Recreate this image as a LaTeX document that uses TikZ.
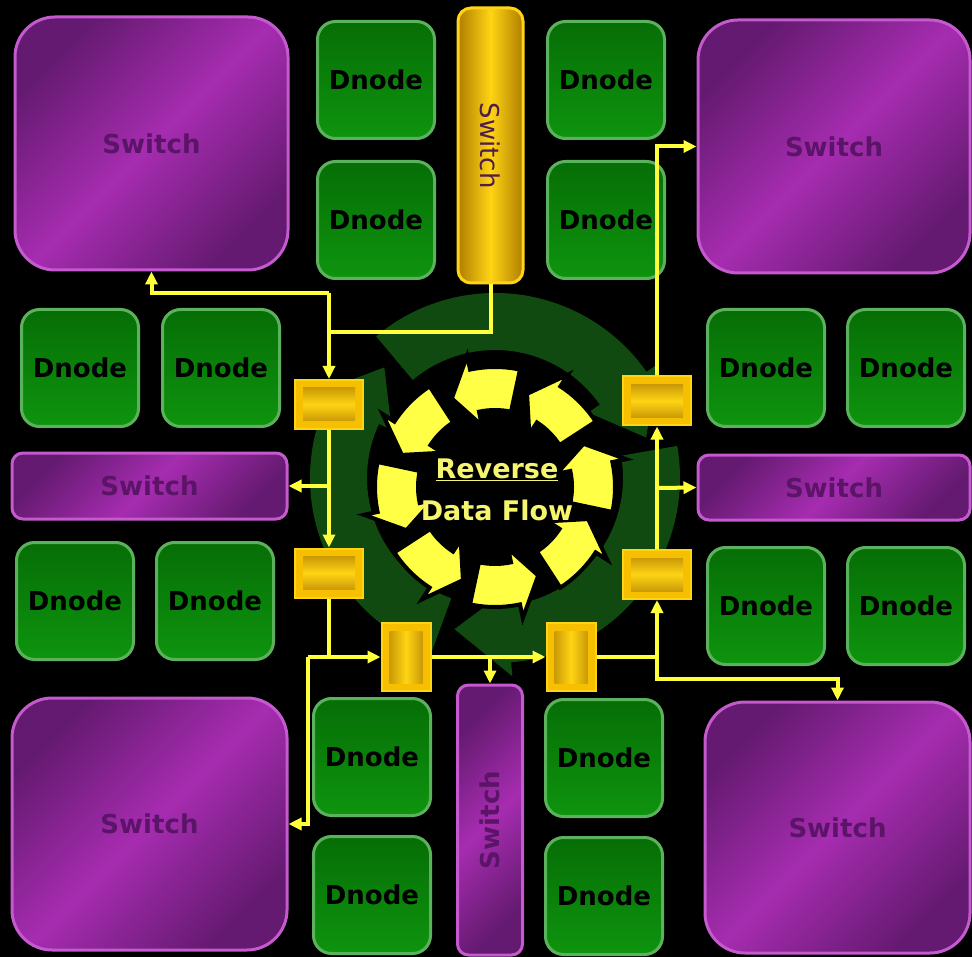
\documentclass[tikz,border=0pt]{standalone}
\usepackage{fontspec}
\setmainfont{DejaVu Sans}
\usepackage{graphicx}
\usetikzlibrary{arrows.meta}

\definecolor{dgreen}{RGB}{6,110,6}
\definecolor{lgreen}{RGB}{14,148,14}
\definecolor{greenrim}{RGB}{92,178,92}
\definecolor{pmain}{RGB}{166,44,176}
\definecolor{pdark}{RGB}{100,26,112}
\definecolor{prim}{RGB}{196,90,206}
\definecolor{ptext}{RGB}{92,20,104}
\definecolor{gold}{RGB}{246,192,0}
\definecolor{golddark}{RGB}{176,126,0}
\definecolor{goldlight}{RGB}{255,212,20}
\definecolor{flowyellow}{RGB}{255,255,60}
\definecolor{ringgreen}{RGB}{16,74,16}
\definecolor{ringyellow}{RGB}{255,255,70}
\definecolor{titleyellow}{RGB}{245,245,110}
\definecolor{ytext}{RGB}{80,30,74}

% curved arrow on a ring: style, start, end, inner r, outer r, overhang, tip offset
\newcommand{\ringarrow}[7]{%
  \filldraw[#1] ({#2}:#4) arc[start angle={#2}, end angle={#3}, radius=#4]
    -- ({#3}:{#4-#6}) -- ({#3+#7}:{(#4+#5)/2}) -- ({#3}:{#5+#6})
    -- ({#3}:#5) arc[start angle={#3}, end angle={#2}, radius=#5] -- cycle;}

\tikzset{
  dnode/.style={rectangle, rounded corners=18pt, minimum width=117pt, minimum height=117pt,
    inner sep=0pt, draw=greenrim, line width=3pt, top color=dgreen, bottom color=lgreen,
    font=\fontsize{26}{28}\selectfont\bfseries, text=black},
  bigswitch/.style={rectangle, rounded corners=40pt, inner sep=0pt, draw=prim, line width=3pt,
    top color=pdark, bottom color=pdark, middle color=pmain, shading angle=45,
    font=\fontsize{26}{28}\selectfont\bfseries, text=ptext},
  sideswitch/.style={bigswitch, rounded corners=11pt},
  goldswitch/.style={rectangle, rounded corners=13pt, inner sep=0pt, draw=goldlight, line width=3pt,
    left color=golddark, right color=golddark, middle color=goldlight,
    font=\fontsize{26}{28}\selectfont, text=ytext},
  bufh/.style={rectangle, inner sep=0pt, minimum width=68pt, minimum height=49pt,
    fill=gold, draw=goldlight, line width=2pt,
    path picture={\shade[top color=golddark, bottom color=golddark, middle color=goldlight]
      ([shift={(8pt,-8pt)}]path picture bounding box.north west) rectangle
      ([shift={(-8pt,8pt)}]path picture bounding box.south east);}},
  bufv/.style={bufh, minimum width=49pt, minimum height=68pt,
    path picture={\shade[left color=golddark, right color=golddark, middle color=goldlight]
      ([shift={(8pt,-8pt)}]path picture bounding box.north west) rectangle
      ([shift={(-8pt,8pt)}]path picture bounding box.south east);}},
  flow/.style={draw=flowyellow, line width=4pt},
  flowto/.style={flow, -{Triangle[length=13pt,width=12pt]}}
}

\begin{document}
\begin{tikzpicture}[x=1pt, y=-1pt]
  \useasboundingbox (0,0) rectangle (972,957);
  \fill[black] (0,0) rectangle (972,957);

  % green recycling ring behind
  \begin{scope}[shift={(495,478)}, yscale=-1]
    \foreach \a in {130,10,-110}{
      \ringarrow{fill=ringgreen, draw=none}{\a}{\a-95}{128}{185}{14}{-20}
    }
  \end{scope}

  % yellow reverse ring
  \begin{scope}[shift={(495,487)}, yscale=-1]
    \foreach \a in {-12,33,...,303}{
      \ringarrow{fill=ringyellow, draw=black, line width=4pt}{\a}{\a+24}{77}{120}{14}{14}
    }
  \end{scope}
  \node[font=\fontsize{27}{42}\selectfont\bfseries, text=titleyellow, align=center]
    (title) at (497,490) {\underline{Reverse}\\Data Flow};

  % corner switches
  \node[bigswitch, minimum width=273pt, minimum height=253pt] (swTL) at (151.5,143.5) {Switch};
  \node[bigswitch, minimum width=272pt, minimum height=253pt] (swTR) at (834,146.5) {Switch};
  \node[bigswitch, minimum width=275pt, minimum height=252pt] (swBL) at (149.5,824) {Switch};
  \node[bigswitch, minimum width=265pt, minimum height=251pt] (swBR) at (837.5,827.5) {Switch};

  % side switches
  \node[goldswitch, minimum width=65pt, minimum height=275pt] (swTop) at (490.5,145.5) {\rotatebox{-90}{Switch}};
  \node[sideswitch, minimum width=275pt, minimum height=66pt] (swLeft) at (149.5,486) {Switch};
  \node[sideswitch, minimum width=272pt, minimum height=65pt] (swRight) at (834,487.5) {Switch};
  \node[sideswitch, minimum width=65pt, minimum height=270pt] (swBot) at (490,820) {\rotatebox{90}{Switch}};

  % data nodes
  \node[dnode] (dT1) at (376,80) {Dnode};
  \node[dnode] (dT2) at (376,220) {Dnode};
  \node[dnode] (dT3) at (606,80) {Dnode};
  \node[dnode] (dT4) at (606,220) {Dnode};
  \node[dnode] (dL1) at (80,368) {Dnode};
  \node[dnode] (dL2) at (221,368) {Dnode};
  \node[dnode] (dL3) at (75,601) {Dnode};
  \node[dnode] (dL4) at (215,601) {Dnode};
  \node[dnode] (dR1) at (766,368) {Dnode};
  \node[dnode] (dR2) at (906,368) {Dnode};
  \node[dnode] (dR3) at (766,606) {Dnode};
  \node[dnode] (dR4) at (906,606) {Dnode};
  \node[dnode] (dB1) at (372,757) {Dnode};
  \node[dnode] (dB2) at (372,895) {Dnode};
  \node[dnode] (dB3) at (604,758) {Dnode};
  \node[dnode] (dB4) at (604,896) {Dnode};

  % buffers
  \node[bufh] (bufL1) at (329,404.5) {};
  \node[bufh] (bufL2) at (329,573) {};
  \node[bufv] (bufB1) at (406,657) {};
  \node[bufv] (bufB2) at (571,657) {};
  \node[bufh] (bufR2) at (657,574.5) {};
  \node[bufh] (bufR1) at (657,401) {};

  % junctions
  \coordinate (jTL) at (329,293);
  \coordinate (jTop) at (329,332);
  \coordinate (jL) at (329,486);
  \coordinate (jBL) at (329,657);
  \coordinate (jBL2) at (308,657);
  \coordinate (jB) at (490,657);
  \coordinate (jBR) at (657,657);
  \coordinate (jBR2) at (657,679);
  \coordinate (jR) at (657,488);

  % flow lines
  \draw[flow] (swTop.south) |- (jTop);
  \draw[flowto] (jTL) -- (bufL1);
  \draw[flowto] (jTL) -| (swTL.south);
  \draw[flowto] (bufL1) -- (bufL2);
  \draw[flowto] (jL) -- (swLeft.east);
  \draw[flow] (bufL2) -- (jBL);
  \draw[flowto] (jBL2) -- (bufB1);
  \draw[flowto] (jBL2) |- (swBL.east);
  \draw[flowto] (bufB1) -- (bufB2);
  \draw[flowto] (jB) -- (swBot.north);
  \draw[flow] (bufB2) -- (jBR);
  \draw[flowto] (jBR) -- (bufR2);
  \draw[flowto] (jBR) -- (jBR2) -| (swBR.north);
  \draw[flowto] (bufR2) -- (bufR1);
  \draw[flowto] (jR) -- (swRight.west);
  \draw[flowto] (bufR1) |- (swTR.west);
\end{tikzpicture}
\end{document}
